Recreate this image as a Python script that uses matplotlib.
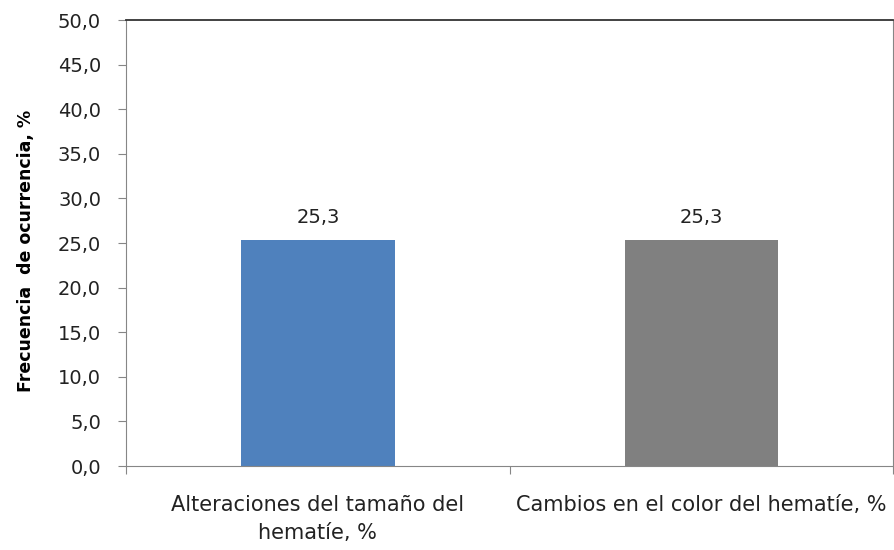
import matplotlib
matplotlib.use("Agg")
from matplotlib import pyplot as plt

categories = ["Alteraciones del tamaño del\nhematíe, %", "Cambios en el color del hematíe, %"]
values = [25.3, 25.3]
bar_colors = ["#4F81BD", "#808080"]
y_ticks = [0, 5, 10, 15, 20, 25, 30, 35, 40, 45, 50]

plt.rcParams["font.family"] = "DejaVu Sans"

fig = plt.figure(figsize=(8.95, 5.5), dpi=100)
ax = fig.add_axes([0.1408, 0.1527, 0.8572, 0.8109])

x = list(range(len(categories)))
ax.bar(x, values, width=0.4, color=bar_colors, zorder=2)
for xi, v in zip(x, values):
    ax.text(xi, v + 1.5, f"{v:.1f}".replace(".", ","), ha="center", va="bottom", fontsize=14, color="#222222")

ax.set_xlim(-0.5, 1.5)
ax.set_ylim(0, 50)
ax.set_yticks(y_ticks)
ax.set_yticklabels([f"{t:.1f}".replace(".", ",") for t in y_ticks], fontsize=14, color="#222222")
ax.tick_params(axis="y", direction="out", length=6, color="#868686", pad=12)

ax.set_xticks([-0.5, 0.5, 1.5])
ax.set_xticklabels([])
ax.tick_params(axis="x", direction="out", length=6, color="#868686")
for xi, label in zip(x, categories):
    ax.text(xi, -3.3, label, ha="center", va="top", fontsize=15, color="#222222", linespacing=1.5)

for side in ["left", "bottom", "right"]:
    ax.spines[side].set_color("#868686")
ax.spines["top"].set_color("#333333")
ax.spines["top"].set_linewidth(1.3)

ax.set_ylabel("Frecuencia  de ocurrencia, %", fontsize=12.5, fontweight="bold")
ax.yaxis.set_label_coords(-0.118, 0.482)

fig.savefig("out.png", dpi=100)
